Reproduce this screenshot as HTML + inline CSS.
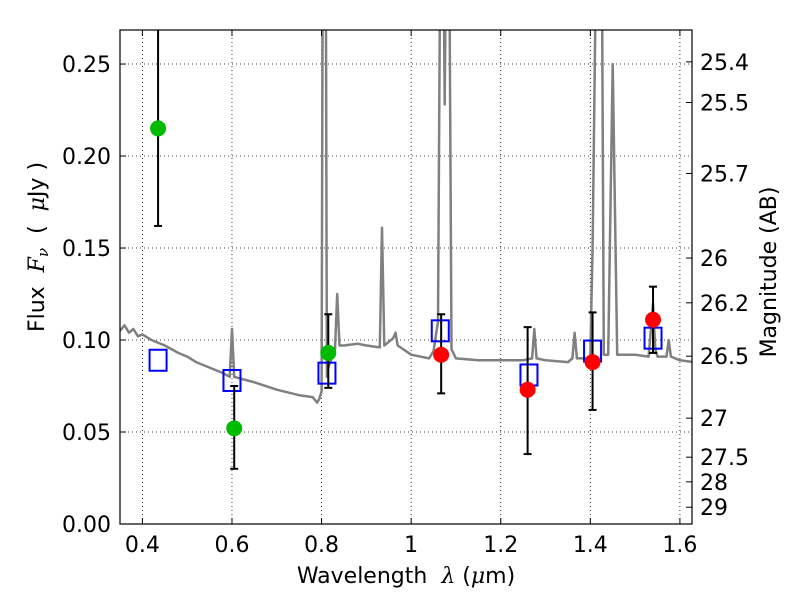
<!DOCTYPE html>
<html><head><meta charset="utf-8"><style>
body{margin:0;background:#fff;}
svg text{font-family:"DejaVu Sans","Liberation Sans",sans-serif;white-space:pre;}
</style></head><body>
<svg id="chart" width="800" height="600" xmlns="http://www.w3.org/2000/svg">
<defs><clipPath id="clip"><rect x="120" y="30" width="572" height="494"/></clipPath></defs>
<rect width="800" height="600" fill="#fff"/>
<g id="grid"></g>
<g id="spec" clip-path="url(#clip)"></g>
<g id="marks" clip-path="url(#clip)"></g>
<rect x="120" y="30" width="572" height="494" fill="none" stroke="#000" stroke-width="1.2"/>
<g id="axes"></g>
<text x="406" y="583" font-size="22" text-anchor="middle">Wavelength&#160;&#160;<tspan font-style="italic" font-family="DejaVu Serif,serif">λ</tspan> (<tspan font-style="italic" font-family="DejaVu Serif,serif">μ</tspan>m)</text>
<text transform="translate(44,247) rotate(-90)" font-size="22" text-anchor="middle">Flux&#160;&#160;<tspan font-style="italic" font-family="DejaVu Serif,serif">F<tspan font-size="15" dy="4">ν</tspan></tspan><tspan dy="-4">&#160;&#160;(&#160;&#160;</tspan><tspan font-style="italic" font-family="DejaVu Serif,serif">μ</tspan>Jy )</text>
<text transform="translate(776,272) rotate(-90)" font-size="22" text-anchor="middle">Magnitude (AB)</text>
</svg>
<script>
const xTicks=[0.4,0.6,0.8,1.0,1.2,1.4,1.6];
const xTickLabels=["0.4","0.6","0.8","1","1.2","1.4","1.6"];
const yTicks=[0,0.05,0.10,0.15,0.20,0.25];
const yTickLabels=["0.00","0.05","0.10","0.15","0.20","0.25"];
const magTicks=[25.4,25.5,25.7,26,26.2,26.5,27,27.5,28,29];
const magTickLabels=["25.4","25.5","25.7","26","26.2","26.5","27","27.5","28","29"];
const specWave=[0.35,0.36,0.37,0.38,0.39,0.40,0.42,0.45,0.48,0.5,0.52,0.55,0.58,0.595,0.6,0.605,0.62,0.65,0.7,0.75,0.78,0.79,0.795,0.80,0.803,0.806,0.809,0.812,0.815,0.83,0.835,0.84,0.85,0.88,0.9,0.93,0.935,0.94,0.96,0.965,0.97,1.0,1.04,1.05,1.06,1.065,1.072,1.075,1.078,1.085,1.09,1.1,1.15,1.2,1.25,1.27,1.275,1.28,1.3,1.35,1.36,1.365,1.37,1.39,1.4,1.405,1.415,1.42,1.425,1.43,1.44,1.45,1.46,1.5,1.53,1.535,1.54,1.545,1.55,1.57,1.575,1.58,1.6,1.63];
const specFlux=[0.105,0.108,0.104,0.106,0.102,0.103,0.100,0.097,0.093,0.091,0.088,0.085,0.082,0.080,0.106,0.080,0.079,0.077,0.073,0.070,0.069,0.066,0.068,0.072,0.35,0.35,0.35,0.08,0.085,0.095,0.125,0.097,0.097,0.098,0.097,0.096,0.161,0.097,0.101,0.104,0.097,0.092,0.090,0.094,0.110,0.32,0.32,0.228,0.32,0.32,0.095,0.090,0.089,0.089,0.089,0.090,0.106,0.090,0.089,0.088,0.090,0.104,0.090,0.090,0.091,0.15,0.35,0.35,0.35,0.092,0.092,0.25,0.092,0.092,0.091,0.105,0.120,0.095,0.091,0.091,0.100,0.091,0.089,0.088];
const greenWave=[0.435,0.605,0.815];
const greenFlux=[0.215,0.052,0.093];
const greenLo=[0.162,0.030,0.074];
const greenHi=[0.40,0.075,0.114];
const redWave=[1.067,1.26,1.405,1.54];
const redFlux=[0.092,0.073,0.088,0.111];
const redLo=[0.071,0.038,0.062,0.093];
const redHi=[0.114,0.107,0.115,0.129];
const modelWave=[0.435,0.6,0.812,1.065,1.263,1.405,1.54];
const modelFlux=[0.089,0.078,0.082,0.105,0.081,0.094,0.101];

const X0=120,X1=692,Y0=524,Y1=30,xmin=0.35,xmax=1.627,ymin=0,ymax=0.2685;
const xs=v=>X0+(v-xmin)/(xmax-xmin)*(X1-X0);
const ys=v=>Y0-(v-ymin)/(ymax-ymin)*(Y0-Y1);
const NS="http://www.w3.org/2000/svg";
function mk(tag,attrs,parent){const e=document.createElementNS(NS,tag);for(const k in attrs)e.setAttribute(k,attrs[k]);parent.appendChild(e);return e;}
const grid=document.getElementById('grid'),axes=document.getElementById('axes'),spec=document.getElementById('spec'),marks=document.getElementById('marks');
xTicks.forEach((t,i)=>{const x=xs(t);
 const g=mk('line',{x1:x,x2:x,y1:Y1,y2:Y0,stroke:'#000','stroke-width':0.8,'stroke-dasharray':'1,3'},grid);
 
 
 mk('line',{x1:x,x2:x,y1:Y0,y2:Y0-6,stroke:'#000'},axes);
 mk('line',{x1:x,x2:x,y1:Y1,y2:Y1+6,stroke:'#000'},axes);
 const tx=mk('text',{x:x,y:Y0+28,'font-size':22,'text-anchor':'middle'},axes);tx.textContent=xTickLabels[i];
 
 });
yTicks.forEach((t,i)=>{const y=ys(t);
 const g=mk('line',{x1:X0,x2:X1,y1:y,y2:y,stroke:'#000','stroke-width':0.8,'stroke-dasharray':'1,3'},grid);
 
 
 mk('line',{x1:X0,x2:X0+6,y1:y,y2:y,stroke:'#000'},axes);
 const tx=mk('text',{x:X0-9,y:y+8,'font-size':22,'text-anchor':'end'},axes);tx.textContent=yTickLabels[i];
 
 });
magTicks.forEach((m,i)=>{const f=Math.pow(10,(23.9-m)/2.5);const y=ys(f);
 mk('line',{x1:X1,x2:X1-6,y1:y,y2:y,stroke:'#000'},axes);
 const tx=mk('text',{x:X1+8,y:y+8,'font-size':22},axes);tx.textContent=magTickLabels[i];
 
 });
const pts=specWave.map((w,i)=>xs(w).toFixed(1)+','+ys(specFlux[i]).toFixed(1)).join(' ');
const pl=mk('polyline',{points:pts,fill:'none',stroke:'#808080','stroke-width':2.5,'stroke-linejoin':'round'},spec);


modelWave.forEach((w,i)=>{const r=mk('rect',{x:xs(w)-8.5,y:ys(modelFlux[i])-10.5,width:17,height:21,fill:'none',stroke:'#0000ff','stroke-width':2},marks);
 
 });
function pointsWithErr(W,F,L,H,color,name){W.forEach((w,i)=>{const x=xs(w);
 const e=mk('line',{x1:x,x2:x,y1:ys(L[i]),y2:ys(H[i]),stroke:'#000','stroke-width':2},marks);
 
 
 [L[i],H[i]].forEach(v=>mk('line',{x1:x-4,x2:x+4,y1:ys(v),y2:ys(v),stroke:'#000','stroke-width':2},marks));
 const c=mk('circle',{cx:x,cy:ys(F[i]),r:8,fill:color},marks);
 
 });}
pointsWithErr(greenWave,greenFlux,greenLo,greenHi,'#00bb00','green-photometry-point');
pointsWithErr(redWave,redFlux,redLo,redHi,'#ff0000','red-photometry-point');
</script>
</body></html>
